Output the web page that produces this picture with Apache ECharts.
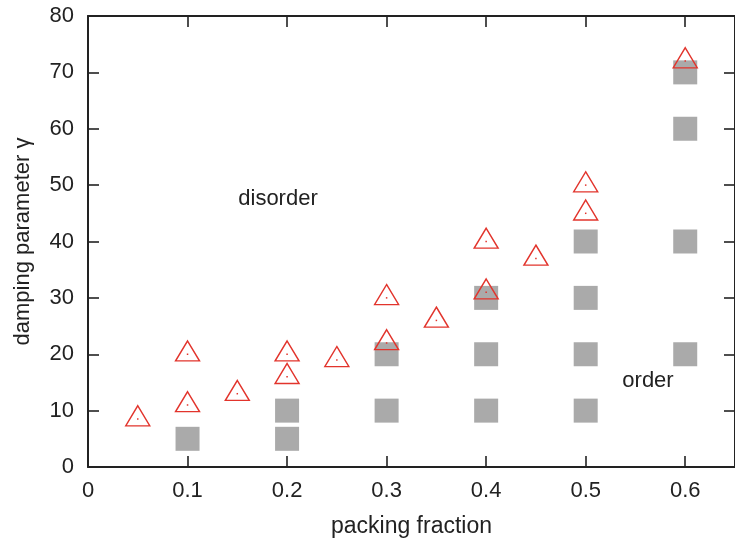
<!DOCTYPE html>
<html lang="en">
<head>
  <meta charset="UTF-8" />
  <title>damping parameter vs packing fraction</title>
  <script src="https://cdn.jsdelivr.net/npm/echarts@6/dist/echarts.min.js"></script>
  <style>
    html, body, #main {
      margin: 0; padding: 0; width: 100%; height: 100%;
      background: #fff;
    }
  </style>
</head>
<body>
  <div id="main"></div>
  <script>
    // ordered states (grey squares): [packing fraction, gamma]
    const orderPhi   = [0.1, 0.2, 0.2, 0.3, 0.3, 0.4, 0.4, 0.4, 0.5, 0.5, 0.5, 0.5, 0.6, 0.6, 0.6, 0.6];
    const orderGamma = [5,   5,   10,  10,  20,  10,  20,  30,  10,  20,  30,  40,  20,  40,  60,  70];

    // transition points (red triangles)
    const transPhi   = [0.05, 0.1, 0.1, 0.15, 0.2, 0.2, 0.25, 0.3, 0.3, 0.35, 0.4, 0.4, 0.45, 0.5, 0.5, 0.6];
    const transGamma = [8.5,  11,  20,  13,   16,  20,  19,   22,  30,  26,   31,  40,  37,   45,  50,  72];

    const xTicks = { min: 0, max: 0.65, interval: 0.1 };
    const yTicks = { min: 0, max: 80, interval: 10 };

    const FONT = '"Liberation Sans", Arial, Helvetica, sans-serif';
    const RED = '#e2342c';

    const zip = (a, b) => a.map((v, i) => [v, b[i]]);
    const chart = echarts.init(document.getElementById('main'));

    const tickStyle = { inside: true, length: 11, lineStyle: { color: '#222', width: 1.6 } };
    const lineStyle = { onZero: false, lineStyle: { color: '#222', width: 2 } };

    chart.setOption({
      animation: false,
      grid: { left: 88, right: -3, top: 16, bottom: 74 },
      xAxis: [{
        type: 'value', min: xTicks.min, max: xTicks.max, interval: xTicks.interval,
        name: 'packing fraction', nameLocation: 'middle', nameGap: 48,
        nameTextStyle: { fontFamily: FONT, fontSize: 23, color: '#222' },
        axisLine: lineStyle, axisTick: tickStyle,
        axisLabel: { fontFamily: FONT, fontSize: 22, color: '#222', margin: 13, showMaxLabel: false,
          formatter: v => String(+v.toFixed(2)) },
        splitLine: { show: false }
      }, {
        type: 'value', position: 'top', min: xTicks.min, max: xTicks.max, interval: xTicks.interval,
        axisLine: lineStyle, axisTick: tickStyle, axisLabel: { show: false }, splitLine: { show: false }
      }],
      yAxis: [{
        type: 'value', min: yTicks.min, max: yTicks.max, interval: yTicks.interval,
        name: 'damping parameter γ', nameLocation: 'middle', nameGap: 54,
        nameTextStyle: { fontFamily: FONT, fontSize: 22, color: '#222' },
        axisLine: lineStyle, axisTick: tickStyle,
        axisLabel: { fontFamily: FONT, fontSize: 22, color: '#222', margin: 14 },
        splitLine: { show: false }
      }, {
        type: 'value', position: 'right', min: yTicks.min, max: yTicks.max, interval: yTicks.interval,
        axisLine: lineStyle, axisTick: tickStyle, axisLabel: { show: false }, splitLine: { show: false }
      }],
      series: [
        {
          type: 'scatter', data: zip(orderPhi, orderGamma),
          symbol: 'rect', symbolSize: 24,
          itemStyle: { color: '#aaaaaa', opacity: 1 }
        },
        {
          type: 'scatter', data: zip(transPhi, transGamma),
          symbol: 'triangle', symbolSize: [24, 20], symbolOffset: [0, -3.3],
          itemStyle: { color: 'rgba(0,0,0,0)', borderColor: RED, borderWidth: 1.4, opacity: 1 }
        },
        {
          type: 'scatter', data: zip(transPhi, transGamma),
          symbol: 'rect', symbolSize: 1.5,
          itemStyle: { color: RED, opacity: 1 }
        }
      ],
      graphic: [
        { type: 'text', x: 278, y: 199, style: { text: 'disorder', fontFamily: FONT, fontSize: 22,
          fill: '#222', align: 'center', verticalAlign: 'middle' } },
        { type: 'text', x: 648, y: 381, style: { text: 'order', fontFamily: FONT, fontSize: 22,
          fill: '#222', align: 'center', verticalAlign: 'middle' } }
      ]
    });
  </script>
</body>
</html>
